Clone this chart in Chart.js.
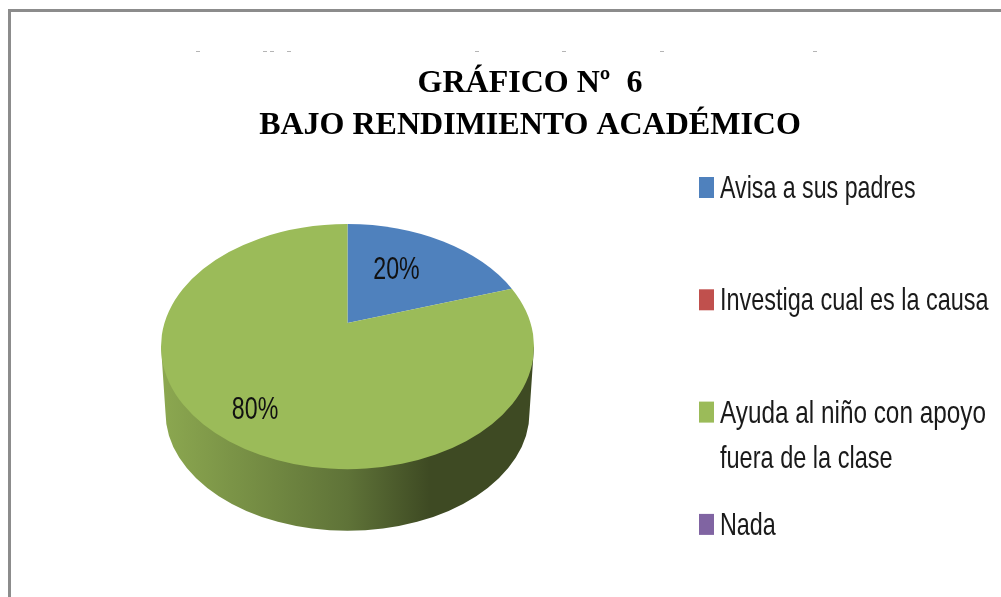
<!DOCTYPE html>
<html lang="es">
<head>
<meta charset="utf-8">
<title>Gráfico Nº 6</title>
<script src="https://cdn.jsdelivr.net/npm/chart.js@4"></script>
<style>
html,body{margin:0;padding:0;background:#fff;overflow:hidden}
#wrap{position:relative;width:1001px;height:597px;filter:blur(.45px)}
#frame{position:absolute;left:8px;top:9px;right:0;bottom:0;border-top:3px solid #8c8c8c;border-left:3px solid #8c8c8c}
canvas{position:absolute;left:0;top:0}
</style>
</head>
<body>
<div id="wrap"><div id="frame"></div><canvas id="c" width="1001" height="597"></canvas></div>
<script>
const titleLines = ['GRÁFICO Nº  6', 'BAJO RENDIMIENTO ACADÉMICO'];
const categories = ['Avisa a sus padres', 'Investiga cual es la causa', 'Ayuda al niño con apoyo fuera de la clase', 'Nada'];
const legendLines = [['Avisa a sus padres'], ['Investiga cual es la causa'], ['Ayuda al niño con apoyo', 'fuera de la clase'], ['Nada']];
const legendNarrow = [[0.725], [0.733], [0.76, 0.735], [0.73]];
const values = [20, 0, 80, 0];
const valueLabels = ['20%', '', '80%', ''];
const colors = ['#4f81bd', '#c0504d', '#9bbb59', '#8064a2'];
const speckX = [198, 265, 272, 289, 477, 564, 662, 815];

const SQUASH = 0.657, TILT = 0.192, DEPTH = 66, NARROW = 0.725;
const labelRadius = [0.572, 0, 0.783, 0];
const labelTurn = [-5.2, 0, -1.6, 0];
const TXT = '"Liberation Sans",sans-serif';

function project(el, angle, r) {
  const u = r * Math.cos(angle), v = -r * Math.sin(angle);
  const d = 1 + TILT * v, s = Math.sqrt(1 - TILT * TILT);
  return {
    x: el.x + el.outerRadius * u * s / d,
    y: el.y - el.outerRadius * SQUASH * (v + TILT) / d
  };
}
function param(el, p) {
  return Math.atan2((p.y - el.y) / (el.outerRadius * SQUASH), (p.x - el.x) / el.outerRadius);
}
function narrowText(ctx, text, x, y, k) {
  ctx.save();
  ctx.translate(x, y);
  ctx.scale(k, 1);
  ctx.fillText(text, 0, 0);
  ctx.restore();
}

const pie3d = {
  id: 'pie3d',
  afterLayout(chart) {
    const t = chart.titleBlock;
    t.left += 182.5; t.right += 182.5;
  },
  beforeDraw(chart) {
    const ctx = chart.ctx;
    ctx.save();
    ctx.fillStyle = '#b5b5b5';
    speckX.forEach(x => ctx.fillRect(x - 2, 51, 4, 1));
    ctx.restore();
  },
  beforeDatasetDraw(chart, args) {
    const ctx = chart.ctx, arcs = args.meta.data, el = arcs[0];
    const R = el.outerRadius, Ry = R * SQUASH, cx = el.x, cy = el.y;
    const bR = R * 0.976, bRy = Ry * 0.965, bcy = cy + DEPTH;
    const g = ctx.createLinearGradient(cx - R, 0, cx + R, 0);
    g.addColorStop(0, '#8ca850');
    g.addColorStop(0.5, '#5f7338');
    g.addColorStop(0.72, '#3e4a23');
    g.addColorStop(1, '#3e4a23');
    ctx.save();
    ctx.fillStyle = g;
    ctx.beginPath();
    ctx.moveTo(cx - R, cy);
    ctx.lineTo(cx - bR, bcy);
    ctx.ellipse(cx, bcy, bR, bRy, 0, Math.PI, 0, true);
    ctx.lineTo(cx + R, cy);
    ctx.closePath();
    ctx.fill();
    const apex = project(el, 0, 0);
    arcs.forEach((a, i) => {
      if (!values[i]) return;
      const p0 = project(a, a.startAngle, 1), p1 = project(a, a.endAngle, 1);
      ctx.fillStyle = a.options.backgroundColor;
      ctx.beginPath();
      ctx.moveTo(apex.x, apex.y);
      ctx.lineTo(p0.x, p0.y);
      ctx.ellipse(cx, cy, R, Ry, 0, param(a, p0), param(a, p1), false);
      ctx.closePath();
      ctx.fill();
    });
    ctx.restore();
    return false;
  },
  afterDatasetsDraw(chart) {
    const ctx = chart.ctx, arcs = chart.getDatasetMeta(0).data;
    ctx.save();
    ctx.fillStyle = '#111';
    ctx.font = '32px ' + TXT;
    ctx.textAlign = 'center';
    ctx.textBaseline = 'middle';
    arcs.forEach((a, i) => {
      if (!valueLabels[i]) return;
      const mid = (a.startAngle + a.endAngle) / 2 + labelTurn[i] * Math.PI / 180;
      const p = project(a, mid, labelRadius[i]);
      narrowText(ctx, valueLabels[i], p.x, p.y, NARROW);
    });
    ctx.textAlign = 'left';
    ctx.textBaseline = 'alphabetic';
    legendLines.forEach((lines, i) => {
      const base = 198 + i * 112.3;
      ctx.fillStyle = colors[i];
      ctx.fillRect(699, base - 21, 15, 21);
      ctx.fillStyle = '#1a1a1a';
      lines.forEach((ln, j) => narrowText(ctx, ln, 720, base + j * 45, legendNarrow[i][j]));
    });
    ctx.restore();
  }
};

new Chart(document.getElementById('c'), {
  type: 'pie',
  data: {
    labels: categories,
    datasets: [{ data: values, backgroundColor: colors, borderWidth: 0, radius: 186.5 }]
  },
  options: {
    responsive: false,
    animation: false,
    layout: { padding: { left: 0, right: 306, top: 0, bottom: 52 } },
    plugins: {
      legend: { display: false },
      tooltip: { enabled: false },
      title: {
        display: true,
        text: titleLines,
        color: '#000',
        align: 'center',
        font: { family: '"Liberation Serif","Times New Roman",serif', size: 32, weight: 'bold', lineHeight: 1.3 },
        padding: { top: 63, bottom: 2 }
      }
    }
  },
  plugins: [pie3d]
});
</script>
</body>
</html>
